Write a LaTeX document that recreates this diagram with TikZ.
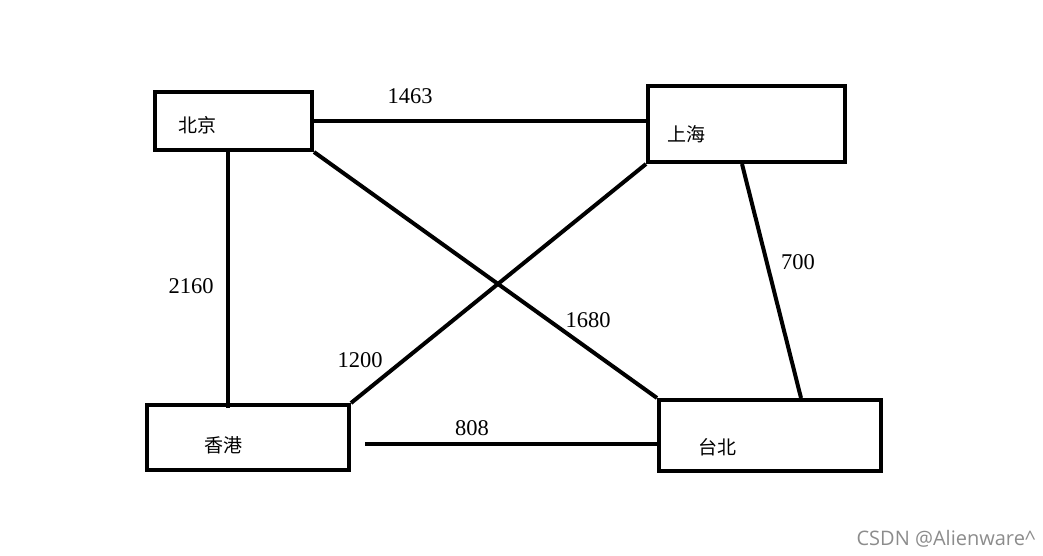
\documentclass[tikz,border=0pt]{standalone}
\usepackage{fontspec}
\setmainfont{Liberation Serif}
\newfontfamily\cjk{Noto Sans CJK SC}
\newfontfamily\markfont{Open Sans}
\usetikzlibrary{positioning}

\begin{document}
\begin{tikzpicture}[
        x=1pt, y=-1pt,
        city/.style={
            rectangle,
            draw=black,
            line width=4pt,
            inner sep=0pt
        },
        cityname/.style={font=\cjk\fontsize{19}{19}\selectfont, inner sep=0pt},
        dist/.style={font=\fontsize{22.5}{22.5}\selectfont, inner sep=0pt},
        road/.style={line width=4pt}
    ]
        \useasboundingbox (0,0) rectangle (1043,556);
        % cities
        \node[city, minimum width=157pt, minimum height=58pt] (bj) at (233.5,121) {};
        \node[city, minimum width=197pt, minimum height=76pt] (sh) at (746.5,124) {};
        \node[city, minimum width=202pt, minimum height=65pt] (hk) at (248,437.5) {};
        \node[city, minimum width=222pt, minimum height=71pt] (tb) at (770,435.5) {};
        \node[cityname] (bjname) at (197,125) {北京};
        \node[cityname] (shname) at (686,134) {上海};
        \node[cityname] (hkname) at (223,445) {香港};
        \node[cityname] (tbname) at (717,447) {台北};
        % roads
        \draw[road] (bj.east) -- (bj.east -| sh.west);
        \draw[road] ([xshift=-5.5pt]bj.south) -- ([xshift=-5.5pt,yshift=-5pt]bj.south |- hk.north);
        \draw[road] (bj.south east) -- (tb.north west);
        \draw[road] (sh.south west) -- (hk.north east);
        \draw[road] ([xshift=-4.5pt]sh.south) -- ([xshift=31pt]tb.north);
        \draw[road] ([xshift=14pt,yshift=-6.5pt]hk.east) -- ([yshift=-8.5pt]tb.west);
        % distances
        \node[dist] (d1463) at (410,96) {1463};
        \node[dist] (d2160) at (191,286) {2160};
        \node[dist] (d1680) at (588,320) {1680};
        \node[dist] (d1200) at (360,360) {1200};
        \node[dist] (d700) at (798,262) {700};
        \node[dist] (d808) at (472,428) {808};
        \node[font=\markfont\fontsize{20}{20}\selectfont, text=black!45, anchor=east, inner sep=0pt] (mark) at (1036,539) {CSDN @Alienware\^{}};
    \end{tikzpicture}
\end{document}
